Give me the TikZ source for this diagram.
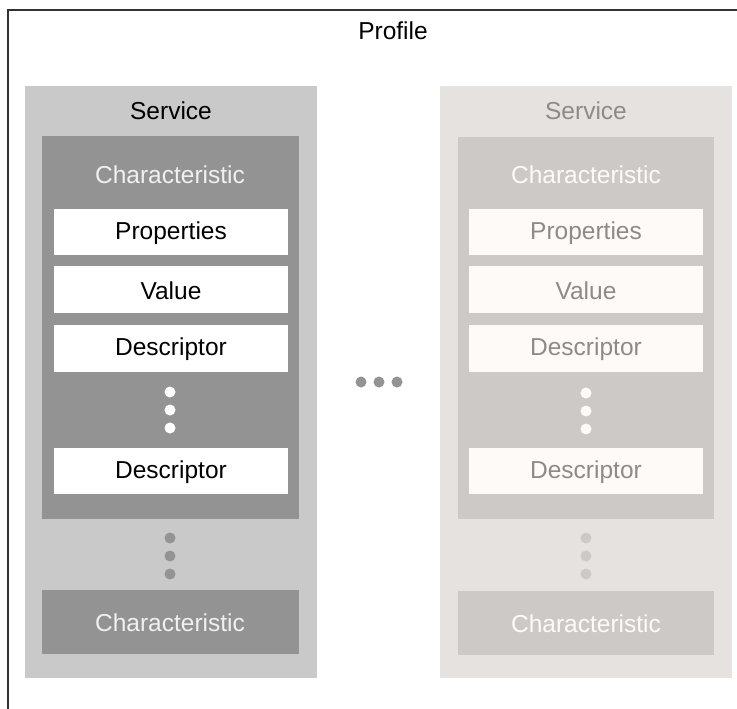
\documentclass[tikz,border=0pt]{standalone}
\usepackage{fontspec}
\setmainfont{Liberation Sans}
\definecolor{svcA}{HTML}{C9C9C9}
\definecolor{chrA}{HTML}{939393}
\definecolor{txtA}{HTML}{F0F0F0}
\definecolor{svcB}{HTML}{E6E2DF}
\definecolor{chrB}{HTML}{CDC9C6}
\definecolor{boxB}{HTML}{FEFAF7}
\definecolor{txtB}{HTML}{8E8A87}
\definecolor{frame}{HTML}{333333}
\tikzset{
  lbl/.style={inner sep=0pt, font=\fontsize{24.5}{29}\selectfont},
  blk/.style={draw=none, inner sep=0pt, anchor=north west},
  dot/.style={circle, inner sep=0pt, minimum size=11pt},
}
\begin{document}
\begin{tikzpicture}[x=1pt, y=-1pt]
\useasboundingbox[fill=white] (0,0) rectangle (737,709);
% frame (top and left edges only)
\coordinate (ftr) at (737,10);
\coordinate (ftl) at (8,10);
\coordinate (fbl) at (8,709);
\draw[frame, line width=1.2pt] (ftr) -- (ftl) -- (fbl);
\node[lbl] (profile) at (393,31) {Profile};

% ---------- left service ----------
\fill[svcA] (25,86) rectangle (317,678);
\node[lbl] (svcL) at (171,111) {Service};
\fill[chrA] (42,136) rectangle (299,519);
\node[lbl, text=txtA] (chrL) at (170,175) {Characteristic};
\foreach \nm/\t/\yt/\yb in {propL/Properties/209/255, valL/Value/266/313, desL/Descriptor/325/372, desL2/Descriptor/448/494}{
  \fill[white] (54,\yt) rectangle (288,\yb);
  \node[lbl] (\nm) at (171,{(\yt+\yb)/2+1}) {\t};
}
\foreach \i/\y in {1/392,2/410,3/428}
  \node[dot, fill=white] (dwL\i) at (170,\y) {};
\foreach \i/\y in {1/538,2/556,3/574}
  \node[dot, fill=chrA] (dgL\i) at (170,\y) {};
\fill[chrA] (42,590) rectangle (299,654);
\node[lbl, text=txtA] (chrL2) at (170,623) {Characteristic};

% ---------- middle ellipsis ----------
\foreach \i/\x in {1/361,2/379,3/397}
  \node[dot, fill=chrA] (mid\i) at (\x,382) {};

% ---------- right service ----------
\fill[svcB] (440,86) rectangle (732,678);
\node[lbl, text=txtB] (svcR) at (586,111) {Service};
\fill[chrB] (458,137) rectangle (714,519);
\node[lbl, text=boxB] (chrR) at (586,175) {Characteristic};
\foreach \nm/\t/\yt/\yb in {propR/Properties/209/255, valR/Value/266/313, desR/Descriptor/325/372, desR2/Descriptor/448/494}{
  \fill[boxB] (469,\yt) rectangle (703,\yb);
  \node[lbl, text=txtB] (\nm) at (586,{(\yt+\yb)/2+1}) {\t};
}
\foreach \i/\y in {1/393,2/411,3/429}
  \node[dot, fill=boxB] (dwR\i) at (586,\y) {};
\foreach \i/\y in {1/538,2/556,3/574}
  \node[dot, fill=chrB] (dgR\i) at (586,\y) {};
\fill[chrB] (458,591) rectangle (714,655);
\node[lbl, text=boxB] (chrR2) at (586,624) {Characteristic};
\end{tikzpicture}
\end{document}
